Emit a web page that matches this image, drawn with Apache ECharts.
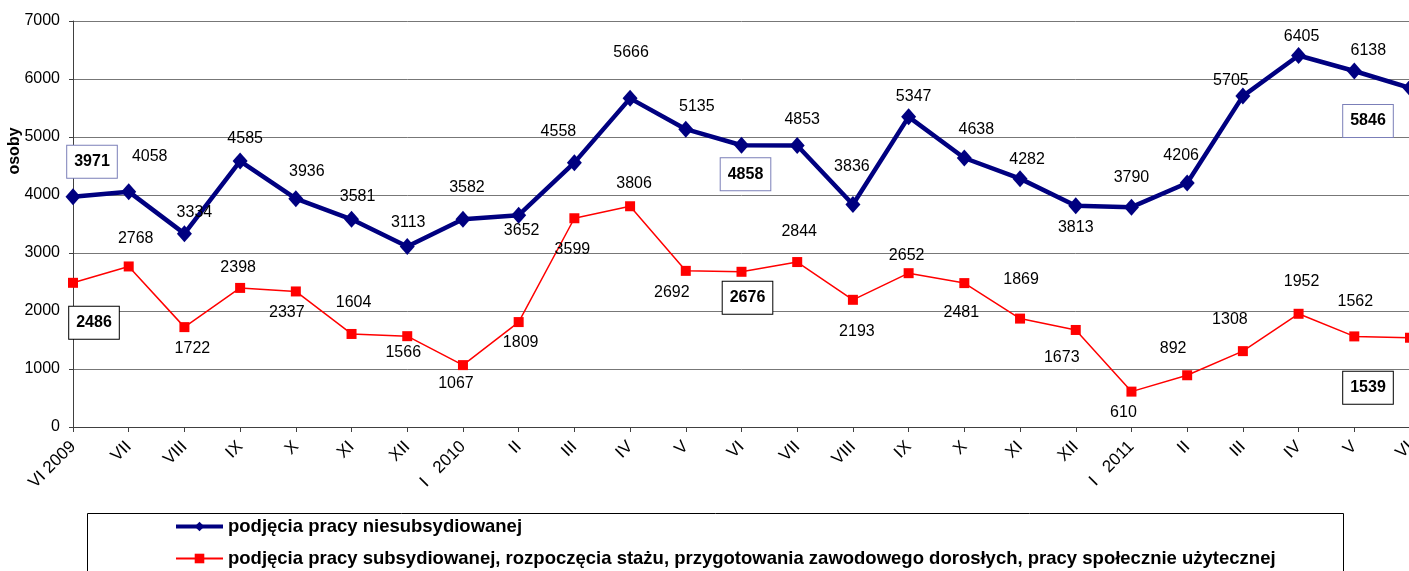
<!DOCTYPE html>
<html>
<head>
<meta charset="utf-8">
<script src="https://cdn.jsdelivr.net/npm/echarts@6/dist/echarts.min.js"></script>
<style>
  html, body { margin: 0; padding: 0; background: #fff; }
  #chart { width: 1409px; height: 571px; }
</style>
</head>
<body>
<div id="chart"></div>
<script>
// miesiące VI 2009 - VI 2011
var months = ['VI 2009', 'VII', 'VIII', 'IX', 'X', 'XI', 'XII', 'I   2010', 'II', 'III', 'IV', 'V',
  'VI', 'VII', 'VIII', 'IX', 'X', 'XI', 'XII', 'I   2011', 'II', 'III', 'IV', 'V', 'VI'];
var niesubsydiowane = [3971, 4058, 3334, 4585, 3936, 3581, 3113, 3582, 3652, 4558, 5666, 5135,
  4858, 4853, 3836, 5347, 4638, 4282, 3813, 3790, 4206, 5705, 6405, 6138, 5846];
var subsydiowane = [2486, 2768, 1722, 2398, 2337, 1604, 1566, 1067, 1809, 3599, 3806, 2692,
  2676, 2844, 2193, 2652, 2481, 1869, 1673, 610, 892, 1308, 1952, 1562, 1539];
var yTicks = [0, 1000, 2000, 3000, 4000, 5000, 6000, 7000];

var seriesNames = ['podjęcia pracy niesubsydiowanej',
  'podjęcia pracy subsydiowanej, rozpoczęcia stażu, przygotowania zawodowego dorosłych, pracy społecznie użytecznej'];

// label placement (px from the point)
var blueOffsets = [[19,-35],[21,-35],[10,-21],[5,-22],[11,-27],[6,-23],[1,-24],[4,-32],[3,15],[-16,-31],
  [1,-46],[11,-23],[4,29],[5,-26],[-1,-38],[5,-20],[12,-28],[7,-19],[0,22],[0,-30],[-6,-27],[-12,-16],
  [3,-19],[14,-20],[-42,33]];
var redOffsets = [[21,40],[7,-28],[8,21],[-2,-20],[-9,21],[2,-31],[-4,16],[-7,18],[2,21],[-2,31],
  [4,-23],[-14,22],[6,26],[2,-30],[4,32],[-2,-18],[-3,29],[1,-39],[-14,28],[-8,21],[-14,-27],[-13,-32],
  [3,-32],[1,-35],[-42,50]];
var boxed = [0, 12, 24];

var font = 'Arial, "Liberation Sans", sans-serif';

function makeData(values, offsets, boxColor) {
  return values.map(function (v, i) {
    var lab = { offset: offsets[i] };
    if (boxed.indexOf(i) >= 0) {
      lab.fontWeight = 'bold';
      lab.borderColor = boxColor;
      lab.borderWidth = 1;
      lab.padding = [8, 7];
      lab.backgroundColor = '#fff';
    }
    return { value: v, label: lab };
  });
}

var chart = echarts.init(document.getElementById('chart'));
var option = {
  animation: false,
  textStyle: { fontFamily: font },
  grid: { left: 73, top: 21, width: 1337, height: 406, containLabel: false, outerBoundsMode: 'none' },
  xAxis: {
    type: 'category',
    data: months,
    boundaryGap: false,
    axisLine: { lineStyle: { color: '#404040', width: 1 } },
    axisTick: { show: true, length: 5, lineStyle: { color: '#404040' } },
    axisLabel: { rotate: 45, interval: 0, color: '#000', fontSize: 17, margin: 17, fontFamily: font }
  },
  yAxis: {
    type: 'value',
    min: yTicks[0],
    max: yTicks[yTicks.length - 1],
    interval: 1000,
    axisLine: { show: true, lineStyle: { color: '#404040', width: 1 } },
    axisTick: { show: true, length: 4, lineStyle: { color: '#404040' } },
    axisLabel: {
      color: '#000', fontSize: 16, margin: 13, fontFamily: font,
      formatter: function (v) { return String(v); }
    },
    splitLine: { lineStyle: { color: '#777', width: 1 } }
  },
  legend: {
    orient: 'vertical',
    left: 174,
    top: 517,
    padding: 0,
    itemWidth: 47,
    itemHeight: 12,
    itemGap: 13,
    textStyle: { color: '#000', fontSize: 18.5, fontWeight: 'bold', fontFamily: font, lineHeight: 18 },
    data: [
      { name: seriesNames[0], lineStyle: { width: 4 } },
      { name: seriesNames[1], lineStyle: { width: 2 } }
    ]
  },
  graphic: [
    {
      type: 'rect',
      shape: { x: 87.5, y: 513.5, width: 1256, height: 70 },
      style: { fill: 'none', stroke: '#000', lineWidth: 1 },
      silent: true
    },
    {
      type: 'text',
      x: 15, y: 151,
      rotation: Math.PI / 2,
      style: { text: 'osoby', fill: '#000', font: 'bold 16px ' + font, align: 'center', verticalAlign: 'middle' },
      silent: true
    }
  ],
  series: [
    {
      name: seriesNames[0],
      type: 'line',
      data: makeData(niesubsydiowane, blueOffsets, '#7b7fb8'),
      symbol: 'diamond',
      symbolSize: [15, 17],
      itemStyle: { color: '#000080' },
      lineStyle: { color: '#000080', width: 4.5 },
      label: { show: true, position: 'inside', color: '#000', fontSize: 16, fontFamily: font },
      z: 3
    },
    {
      name: seriesNames[1],
      type: 'line',
      data: makeData(subsydiowane, redOffsets, '#000'),
      symbol: 'rect',
      symbolSize: 10,
      itemStyle: { color: '#ff0000' },
      lineStyle: { color: '#ff0000', width: 1.5 },
      label: { show: true, position: 'inside', color: '#000', fontSize: 16, fontFamily: font },
      z: 2
    }
  ]
};
chart.setOption(option);
</script>
</body>
</html>
